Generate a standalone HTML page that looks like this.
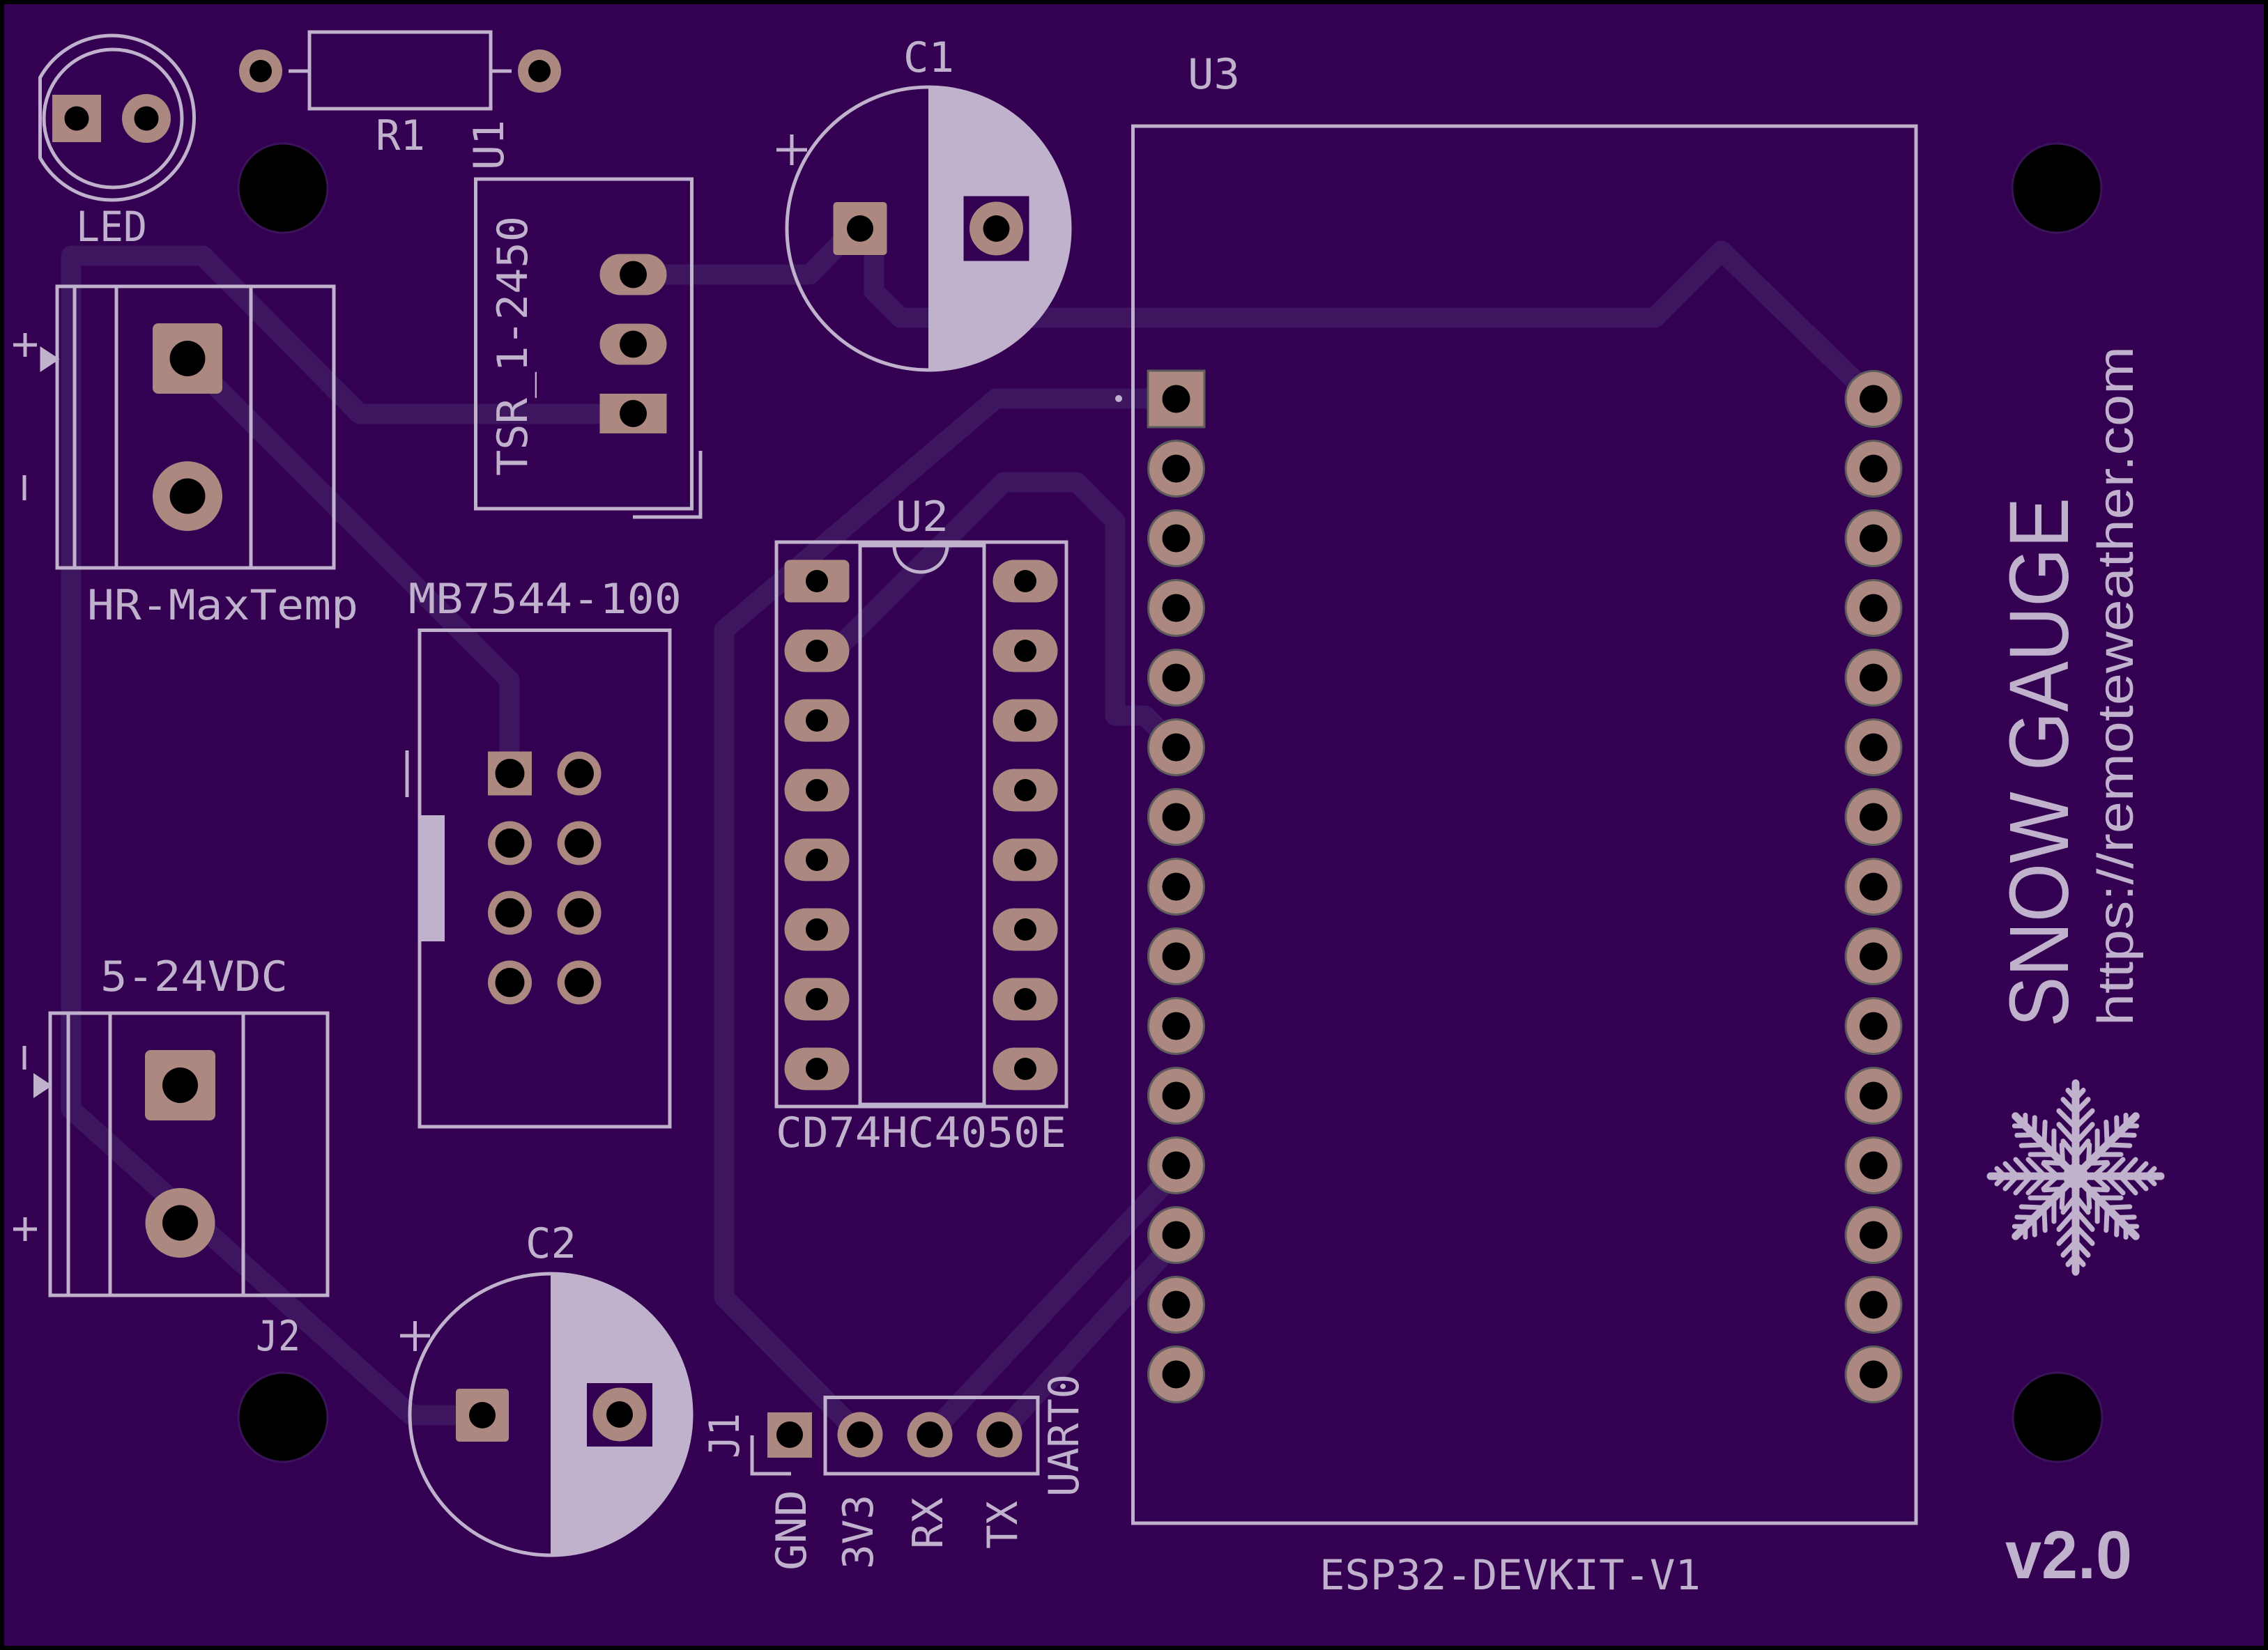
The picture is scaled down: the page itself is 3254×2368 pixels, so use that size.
<!DOCTYPE html>
<html><head><meta charset="utf-8"><style>
html,body{margin:0;padding:0;background:#000;overflow:hidden}
svg{display:block}
.sk{stroke:#c0b1cc;stroke-width:5;fill:none}
.tx{fill:#c0b1cc;font-family:"DejaVu Sans Mono","Liberation Mono",monospace;font-size:60px}
.tr{stroke:#3e1660;stroke-width:29;fill:none;stroke-linecap:round;stroke-linejoin:round}
.cu{fill:#ad8880}
.hole{fill:#000}
.mh{fill:#000;stroke:#3a1458;stroke-width:3}
</style></head><body>
<svg width="3254" height="2368" viewBox="0 0 3254 2368" xmlns="http://www.w3.org/2000/svg">
<defs>
<g id="u3p"><circle r="40" fill="#ad8880" stroke="#5c5c5c" stroke-width="3"/><circle r="20" fill="#000"/></g>
<g id="u2p"><rect x="-46.5" y="-30.5" width="93" height="61" rx="30.5" fill="#ad8880"/><circle r="16" fill="#000"/></g>
<g id="mbp"><circle r="31.5" fill="#ad8880"/><circle r="21" fill="#000"/></g>
<g id="j1p"><circle r="32.5" fill="#ad8880"/><circle r="19" fill="#000"/></g>
<g id="arm" stroke="#c0b1cc" stroke-linecap="round" fill="none">
<path d="M0 0 V-122" stroke-width="11"/>
<path d="M0 -26 l-18 -20 M0 -26 l18 -20 M0 -44 l-24 -24 M0 -44 l24 -24 M0 -64 l-24 -22 M0 -64 l24 -22 M0 -84 l-18 -17 M0 -84 l18 -17 M0 -102 l-11 -11 M0 -102 l11 -11" stroke-width="7"/>
</g>
</defs>

<!-- board -->
<rect x="0" y="0" width="3254" height="2368" fill="#000"/>
<rect x="6" y="6" width="3242" height="2356" fill="#330052"/>

<!-- traces -->
<path class="tr" d="M908 594 L516 594 L291 367 L102 367 L102 1592 L590 2031 L692 2031"/>
<path class="tr" d="M269 514 L731 976 L731 1110"/>
<path class="tr" d="M908 394 L1162 394 L1226 328 L1234 328"/>
<path class="tr" d="M1254 328 L1254 418 L1292 456 L2374 456 L2470 360 L2688 572"/>
<path class="tr" d="M1687 572 L1429 572 L1039 904 L1039 1862 L1234 2059"/>
<path class="tr" d="M1687 1072 L1643 1027 L1600 1027 L1600 748 L1545 692 L1440 692 L1198 934 L1172 934"/>
<path class="tr" d="M1334 2059 L1665 1705 L1687 1672"/>
<path class="tr" d="M1434 2059 L1665 1805 L1687 1772"/>

<!-- silkscreen -->
<!-- LED -->
<path class="sk" d="M57.5 111.4 A118 118 0 1 1 57.5 226.6 Z"/>
<circle class="sk" cx="162" cy="170" r="99"/>
<!-- R1 -->
<rect class="sk" x="444" y="46" width="260" height="110"/>
<path class="sk" d="M414 102 H444 M704 102 H734"/>
<!-- U1 -->
<rect class="sk" x="682.5" y="257" width="310" height="473"/>
<path class="sk" d="M1005 647 V742 H908"/>
<!-- HR terminal -->
<rect class="sk" x="82" y="411" width="397" height="404"/>
<path class="sk" d="M107 411 V815 M167 411 V815 M360 411 V815"/>
<polygon points="57.5,497 57.5,534 85.6,515.5" fill="#c0b1cc"/>
<path class="sk" d="M19 495 H53 M36 478 V512 M35 682 V718"/>
<!-- J2 terminal -->
<rect class="sk" x="72" y="1454" width="398" height="405"/>
<path class="sk" d="M98 1454 V1859 M158 1454 V1859 M349 1454 V1859"/>
<polygon points="48,1540 48,1576 75,1558" fill="#c0b1cc"/>
<path class="sk" d="M35 1501 V1535 M19 1764 H53 M36 1747 V1781"/>
<!-- MB7544 -->
<rect class="sk" x="602" y="904.5" width="359" height="712.5"/>
<path class="sk" d="M584 1077 V1144"/>
<rect x="603" y="1170" width="35" height="181" fill="#c0b1cc"/>
<!-- U2 -->
<rect class="sk" x="1114" y="778" width="416" height="810"/>
<rect class="sk" x="1234" y="783" width="178" height="802"/>
<path class="sk" d="M1283 783 A38 38 0 0 0 1359 783"/>
<!-- U3 -->
<rect class="sk" x="1625.5" y="181" width="1123.5" height="2005"/>
<circle cx="1605" cy="572" r="5" fill="#c0b1cc"/>
<!-- C1 -->
<path d="M1332 125 A203 203 0 0 1 1332 531 Z" fill="#c0b1cc"/>
<circle class="sk" cx="1332" cy="328" r="203"/>
<path class="sk" d="M1114 215 H1158 M1136 193 V237"/>
<!-- C2 -->
<path d="M790 1828 A202 202 0 0 1 790 2232 Z" fill="#c0b1cc"/>
<circle class="sk" cx="790" cy="2030" r="202"/>
<path class="sk" d="M574 1917 H617 M595.5 1896 V1939"/>
<!-- J1 -->
<rect class="sk" x="1184" y="2005.5" width="305" height="109.5"/>
<path class="sk" d="M1079 2060 V2115 H1135"/>

<!-- text labels -->
<text class="tx" x="109" y="346" textLength="102" lengthAdjust="spacingAndGlyphs">LED</text>
<text class="tx" x="539" y="215" textLength="71" lengthAdjust="spacingAndGlyphs">R1</text>
<text class="tx" x="125" y="889" textLength="389" lengthAdjust="spacingAndGlyphs">HR-MaxTemp</text>
<text class="tx" x="586" y="880" textLength="392" lengthAdjust="spacingAndGlyphs">MB7544-100</text>
<text class="tx" x="144" y="1422" textLength="269" lengthAdjust="spacingAndGlyphs">5-24VDC</text>
<text class="tx" x="367" y="1938" textLength="64" lengthAdjust="spacingAndGlyphs">J2</text>
<text class="tx" x="754" y="1805" textLength="73" lengthAdjust="spacingAndGlyphs">C2</text>
<text class="tx" x="1296" y="103" textLength="73" lengthAdjust="spacingAndGlyphs">C1</text>
<text class="tx" x="1704" y="127" textLength="75" lengthAdjust="spacingAndGlyphs">U3</text>
<text class="tx" x="1285" y="762" textLength="76" lengthAdjust="spacingAndGlyphs">U2</text>
<text class="tx" x="1113" y="1646" textLength="417" lengthAdjust="spacingAndGlyphs">CD74HC4050E</text>
<text class="tx" x="1893" y="2281" textLength="547" lengthAdjust="spacingAndGlyphs">ESP32-DEVKIT-V1</text>

<text class="tx" transform="translate(722 241) rotate(-90)" x="-3" y="0" textLength="72" lengthAdjust="spacingAndGlyphs">U1</text>
<text class="tx" transform="translate(756 680) rotate(-90)" x="-3" y="0" textLength="373" lengthAdjust="spacingAndGlyphs">TSR_1-2450</text>
<text class="tx" transform="translate(1060 2090) rotate(-90)" x="-3" y="0" textLength="65" lengthAdjust="spacingAndGlyphs">J1</text>
<text class="tx" transform="translate(1547 2145) rotate(-90)" x="-3" y="0" textLength="176" lengthAdjust="spacingAndGlyphs">UART0</text>
<text class="tx" transform="translate(1156 2251) rotate(-90)" x="-3" y="0" textLength="116" lengthAdjust="spacingAndGlyphs">GND</text>
<text class="tx" transform="translate(1252 2249) rotate(-90)" x="-3" y="0" textLength="107" lengthAdjust="spacingAndGlyphs">3V3</text>
<text class="tx" transform="translate(1352 2220) rotate(-90)" x="-3" y="0" textLength="74" lengthAdjust="spacingAndGlyphs">RX</text>
<text class="tx" transform="translate(1459 2220) rotate(-90)" x="-3" y="0" textLength="69" lengthAdjust="spacingAndGlyphs">TX</text>

<text transform="translate(2967 1469) rotate(-90)" x="-5" y="0" textLength="760" lengthAdjust="spacingAndGlyphs" fill="#c0b1cc" font-family="'Liberation Sans',sans-serif" font-size="121">SNOW GAUGE</text>
<text transform="translate(3060 1469) rotate(-90)" x="-3" y="0" textLength="975" lengthAdjust="spacingAndGlyphs" fill="#c0b1cc" font-family="'Liberation Sans',sans-serif" font-size="72">https://remoteweather.com</text>
<text x="2877" y="2265" textLength="182" lengthAdjust="spacingAndGlyphs" fill="#c0b1cc" font-family="'Liberation Sans',sans-serif" font-weight="bold" font-size="97">v2.0</text>

<!-- snowflake -->
<g transform="translate(2978 1688)">
<use href="#arm" transform="scale(1 1.09)"/>
<use href="#arm" transform="rotate(45)"/>
<use href="#arm" transform="rotate(90)"/>
<use href="#arm" transform="rotate(135)"/>
<use href="#arm" transform="rotate(180) scale(1 1.12)"/>
<use href="#arm" transform="rotate(225)"/>
<use href="#arm" transform="rotate(270)"/>
<use href="#arm" transform="rotate(315)"/>
<circle r="18" fill="#c0b1cc"/>
</g>

<!-- pads -->
<!-- LED -->
<rect class="cu" x="75" y="136" width="70" height="68"/>
<circle class="cu" cx="210" cy="170" r="35"/>
<circle class="hole" cx="110" cy="170" r="17.5"/>
<circle class="hole" cx="210" cy="170" r="17.5"/>
<!-- R1 -->
<circle class="cu" cx="374" cy="102" r="31"/><circle class="hole" cx="374" cy="102" r="16"/>
<circle class="cu" cx="774" cy="102" r="31"/><circle class="hole" cx="774" cy="102" r="16"/>
<!-- U1 -->
<rect class="cu" x="860.5" y="364.5" width="96" height="59" rx="29.5"/>
<rect class="cu" x="860.5" y="464.5" width="96" height="59" rx="29.5"/>
<rect class="cu" x="860.5" y="565" width="96" height="57"/>
<circle class="hole" cx="908.5" cy="394" r="19.5"/>
<circle class="hole" cx="908.5" cy="494" r="19.5"/>
<circle class="hole" cx="908.5" cy="593.5" r="19.5"/>
<!-- HR -->
<rect class="cu" x="219" y="464" width="100" height="101" rx="8"/>
<circle class="cu" cx="269" cy="712" r="50"/>
<circle class="hole" cx="269" cy="514.5" r="25.5"/>
<circle class="hole" cx="269" cy="712" r="25.5"/>
<!-- J2 -->
<rect class="cu" x="208" y="1507" width="101" height="101" rx="8"/>
<circle class="cu" cx="258.5" cy="1755" r="50"/>
<circle class="hole" cx="258.5" cy="1557.5" r="25.5"/>
<circle class="hole" cx="258.5" cy="1755" r="25.5"/>
<!-- MB -->
<rect class="cu" x="700" y="1078.5" width="63" height="63"/>
<circle class="hole" cx="731.5" cy="1110" r="21"/>
<use href="#mbp" x="831" y="1110"/>
<use href="#mbp" x="731.5" y="1210"/><use href="#mbp" x="831" y="1210"/>
<use href="#mbp" x="731.5" y="1310"/><use href="#mbp" x="831" y="1310"/>
<use href="#mbp" x="731.5" y="1410"/><use href="#mbp" x="831" y="1410"/>
<!-- C1 -->
<rect class="cu" x="1195.5" y="290" width="77" height="76" rx="5"/>
<circle class="hole" cx="1234" cy="328" r="19"/>
<rect x="1382.5" y="281.5" width="94" height="93" fill="#330052"/>
<circle class="cu" cx="1429.5" cy="328" r="38.5"/>
<circle class="hole" cx="1429.5" cy="328" r="19"/>
<!-- C2 -->
<rect class="cu" x="654" y="1993" width="76" height="76" rx="5"/>
<circle class="hole" cx="692" cy="2031" r="19"/>
<rect x="842" y="1985" width="94" height="91" fill="#330052"/>
<circle class="cu" cx="889" cy="2030" r="38.5"/>
<circle class="hole" cx="889" cy="2030" r="19"/>
<!-- J1 -->
<rect class="cu" x="1101" y="2027" width="64" height="65"/>
<circle class="hole" cx="1133" cy="2059" r="19"/>
<use href="#j1p" x="1234" y="2059"/><use href="#j1p" x="1334" y="2059"/><use href="#j1p" x="1434" y="2059"/>
<!-- U2 -->
<rect class="cu" x="1125.5" y="803.5" width="93" height="61" rx="8"/>
<circle class="hole" cx="1172" cy="834" r="16"/>
<use href="#u2p" x="1172" y="934"/><use href="#u2p" x="1172" y="1034"/><use href="#u2p" x="1172" y="1134"/>
<use href="#u2p" x="1172" y="1234"/><use href="#u2p" x="1172" y="1334"/><use href="#u2p" x="1172" y="1434"/><use href="#u2p" x="1172" y="1534"/>
<use href="#u2p" x="1471" y="834"/><use href="#u2p" x="1471" y="934"/><use href="#u2p" x="1471" y="1034"/><use href="#u2p" x="1471" y="1134"/>
<use href="#u2p" x="1471" y="1234"/><use href="#u2p" x="1471" y="1334"/><use href="#u2p" x="1471" y="1434"/><use href="#u2p" x="1471" y="1534"/>
<!-- U3 -->
<rect x="1647" y="532" width="81" height="81" fill="#ad8880" stroke="#5c5c5c" stroke-width="3"/>
<circle class="hole" cx="1687.5" cy="572.5" r="20"/>
<use href="#u3p" x="1687.5" y="672.5"/><use href="#u3p" x="1687.5" y="772.5"/><use href="#u3p" x="1687.5" y="872.5"/>
<use href="#u3p" x="1687.5" y="972.5"/><use href="#u3p" x="1687.5" y="1072.5"/><use href="#u3p" x="1687.5" y="1172.5"/>
<use href="#u3p" x="1687.5" y="1272.5"/><use href="#u3p" x="1687.5" y="1372.5"/><use href="#u3p" x="1687.5" y="1472.5"/>
<use href="#u3p" x="1687.5" y="1572.5"/><use href="#u3p" x="1687.5" y="1672.5"/><use href="#u3p" x="1687.5" y="1772.5"/>
<use href="#u3p" x="1687.5" y="1872.5"/><use href="#u3p" x="1687.5" y="1972.5"/>
<use href="#u3p" x="2688" y="572.5"/><use href="#u3p" x="2688" y="672.5"/><use href="#u3p" x="2688" y="772.5"/>
<use href="#u3p" x="2688" y="872.5"/><use href="#u3p" x="2688" y="972.5"/><use href="#u3p" x="2688" y="1072.5"/>
<use href="#u3p" x="2688" y="1172.5"/><use href="#u3p" x="2688" y="1272.5"/><use href="#u3p" x="2688" y="1372.5"/>
<use href="#u3p" x="2688" y="1472.5"/><use href="#u3p" x="2688" y="1572.5"/><use href="#u3p" x="2688" y="1672.5"/>
<use href="#u3p" x="2688" y="1772.5"/><use href="#u3p" x="2688" y="1872.5"/><use href="#u3p" x="2688" y="1972.5"/>

<!-- mounting holes -->
<circle class="mh" cx="406" cy="270" r="64"/>
<circle class="mh" cx="2951" cy="270" r="64"/>
<circle class="mh" cx="406" cy="2034" r="64"/>
<circle class="mh" cx="2952" cy="2034" r="64"/>
</svg>
</body></html>
